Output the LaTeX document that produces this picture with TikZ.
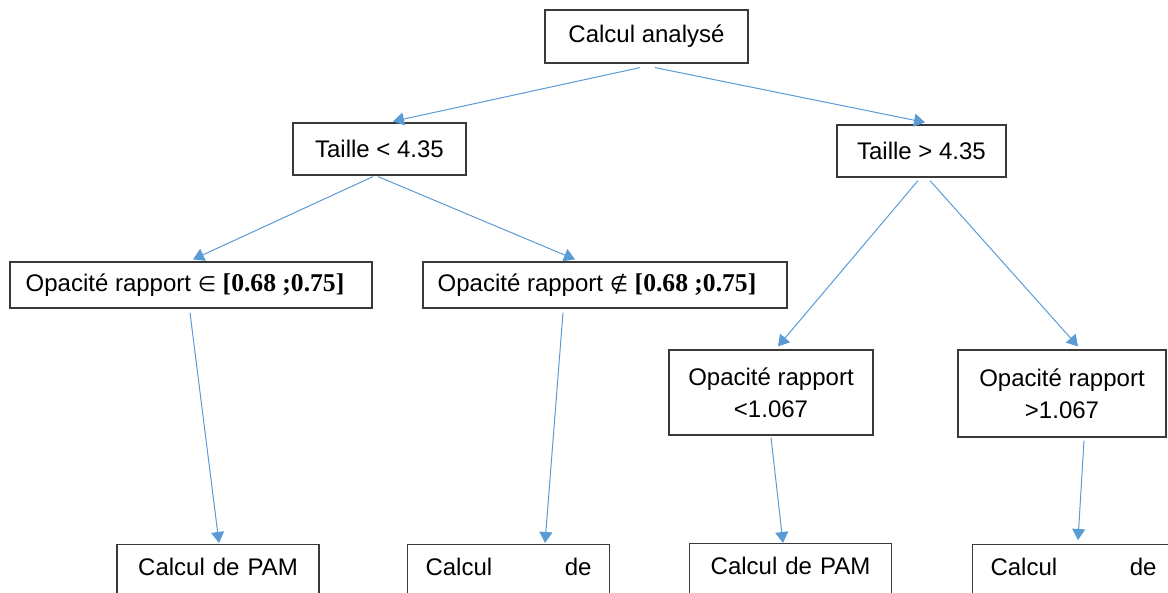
\documentclass[tikz,border=0pt]{standalone}
\usepackage{fontspec}
\setmainfont{Liberation Sans}
\newfontfamily\calcserif{Liberation Serif}
\newfontfamily\calcsym{DejaVu Sans}
\usepackage{xcolor}
\usepackage{tikz}
\usetikzlibrary{arrows.meta,calc}
\definecolor{calcline}{HTML}{3A3A3A}
\definecolor{calcblue}{HTML}{5B9BD5}
\tikzset{%
  calcbox/.style={%
    draw=calcline,
    line width=0.6pt,
    fill=white,
    inner sep=0pt,
    align=center,
    font=\fontsize{12}{16}\selectfont
  },
  calcleaf/.style={%
    calcbox,
    anchor=north,
    text width=83pt,
    minimum width=101pt,
    text height=8.5pt,
    text depth=36pt,
    inner ysep=7pt
  },
  calcarrow/.style={-{Triangle[length=5.5pt,width=6.5pt]},line width=0.5pt,draw=calcblue}
}
\newcommand{\calcint}{{\calcserif\bfseries\fontsize{12.8}{16}\selectfont [0.68 ;0.75]}}
\newcommand{\calcrel}[1]{{\calcsym\fontsize{10.5}{16}\selectfont #1}}

\begin{document}
\begin{tikzpicture}[x=0.5pt,y=-0.5pt]
    \clip (0,0) rectangle (1168,593);
    \node[calcbox,minimum width=101.5pt,minimum height=26.5pt] (root) at (646.5,36.5) {Calcul analysé};
    \node[calcbox,minimum width=86.5pt,minimum height=26pt] (tlow) at (379.5,149) {Taille < 4.35};
    \node[calcbox,minimum width=84.5pt,minimum height=26pt] (thigh) at (921.5,151) {Taille > 4.35};
    \node[calcbox,minimum width=181pt,minimum height=23pt] (oin) at (191,285) {Opacité rapport \calcrel{∈} \calcint\hspace*{6pt}};
    \node[calcbox,minimum width=182pt,minimum height=23pt] (onotin) at (605,285) {Opacité rapport \calcrel{∉} \calcint\hspace*{8pt}};
    \node[calcbox,minimum width=102pt,minimum height=42.5pt] (olow) at (771,392.5) {Opacité rapport\\<1.067};
    \node[calcbox,minimum width=104pt,minimum height=43.5pt] (ohigh) at (1062,393.5) {Opacité rapport\\>1.067};
    \node[calcleaf] (pam1) at (218,544) {Calcul de PAM};
    \node[calcleaf] (calc2) at (508.5,544) {Calcul\hfill de};
    \node[calcleaf] (pam3) at (790.5,543) {Calcul de PAM};
    \node[calcleaf] (calc4) at (1073.5,544) {Calcul\hfill de};

    \draw[calcarrow] ($(root.south)+(-6.5,4)$) -- ($(tlow.north)+(13.5,-1)$);
    \draw[calcarrow] ($(root.south)+(8.5,4)$) -- ($(thigh.north)+(3.5,-2)$);
    \draw[calcarrow] ($(tlow.south)+(-6.5,1)$) -- ($(oin.north)+(2,-2)$);
    \draw[calcarrow] ($(tlow.south)+(-1.5,1)$) -- ($(onotin.north)+(-30,-2)$);
    \draw[calcarrow] ($(thigh.south)+(-3.5,3)$) -- ($(olow.north)+(7,-3)$);
    \draw[calcarrow] ($(thigh.south)+(8.5,3)$) -- ($(ohigh.north)+(16,-3)$);
    \draw[calcarrow] ($(oin.south)+(-1,4)$) -- ($(pam1.north)+(1,-1)$);
    \draw[calcarrow] ($(onotin.south)+(-42,4)$) -- ($(calc2.north)+(36.5,-1)$);
    \draw[calcarrow] ($(olow.south)+(0,2)$) -- ($(pam3.north)+(-7.5,0)$);
    \draw[calcarrow] ($(ohigh.south)+(22,3)$) -- ($(calc4.north)+(4.5,-4)$);
  \end{tikzpicture}
\end{document}
